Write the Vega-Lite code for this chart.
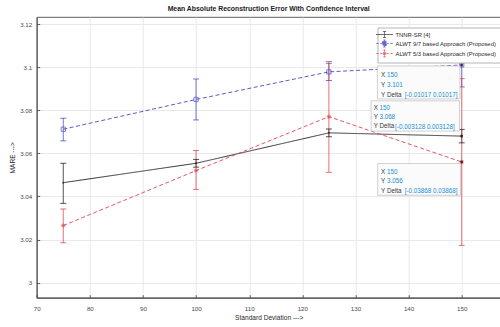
{
  "$schema": "https://vega.github.io/schema/vega-lite/v6.json",
  "autosize": {"type": "none"},
  "padding": {"left": 36.7, "top": 17, "right": 0, "bottom": 29.3},
  "width": 464,
  "height": 280.7,
  "background": "white",
  "config": {
    "font": "Liberation Sans, Arial",
    "view": {"stroke": "#3a3a3a", "strokeWidth": 0.8},
    "axis": {
      "labelFont": "Liberation Sans, Arial",
      "titleFont": "Liberation Sans, Arial",
      "labelFontSize": 6.2, "titleFontSize": 6.6, "titleFontWeight": "normal",
      "labelColor": "#4a4a4a", "titleColor": "#2a2a2a",
      "domainColor": "#3a3a3a", "domainWidth": 0.9,
      "tickColor": "#3a3a3a", "tickSize": -3, "tickWidth": 0.8,
      "gridColor": "#e3e3e3", "gridWidth": 0.8
    }
  },
  "title": {
    "text": "Mean Absolute Reconstruction Error With Confidence Interval",
    "font": "Liberation Sans, Arial",
    "fontSize": 6.9, "fontWeight": "bold", "color": "#1a1a1a",
    "anchor": "middle", "offset": 4
  },
  "datasets": {
    "main": [
      {"series": "TNNR-SR [4]", "sd": 75, "mare": 3.0464, "lo": 3.0368, "hi": 3.0554},
      {"series": "TNNR-SR [4]", "sd": 100, "mare": 3.0554, "lo": 3.0536, "hi": 3.0572},
      {"series": "TNNR-SR [4]", "sd": 125, "mare": 3.0695, "lo": 3.0677, "hi": 3.0713},
      {"series": "TNNR-SR [4]", "sd": 150, "mare": 3.068, "lo": 3.06487, "hi": 3.07113},
      {"series": "ALWT 9/7 based Approach (Proposed)", "sd": 75, "mare": 3.0712, "lo": 3.0658, "hi": 3.0763},
      {"series": "ALWT 9/7 based Approach (Proposed)", "sd": 100, "mare": 3.085, "lo": 3.0755, "hi": 3.0945},
      {"series": "ALWT 9/7 based Approach (Proposed)", "sd": 125, "mare": 3.0978, "lo": 3.0938, "hi": 3.1018},
      {"series": "ALWT 9/7 based Approach (Proposed)", "sd": 150, "mare": 3.101, "lo": 3.09083, "hi": 3.11117},
      {"series": "ALWT 5/3 based Approach (Proposed)", "sd": 75, "mare": 3.0265, "lo": 3.0185, "hi": 3.0342},
      {"series": "ALWT 5/3 based Approach (Proposed)", "sd": 100, "mare": 3.052, "lo": 3.0433, "hi": 3.0613},
      {"series": "ALWT 5/3 based Approach (Proposed)", "sd": 125, "mare": 3.077, "lo": 3.0512, "hi": 3.1026},
      {"series": "ALWT 5/3 based Approach (Proposed)", "sd": 150, "mare": 3.056, "lo": 3.01732, "hi": 3.09468}
    ],
    "tips": [
      {"series": "ALWT 9/7 based Approach (Proposed)", "sd": 150, "mare": 3.101, "vals": ["150", "3.101"], "delta": "[-0.01017 0.01017]"},
      {"series": "TNNR-SR [4]", "sd": 150, "mare": 3.068, "vals": ["150", "3.068"], "delta": "[-0.003128 0.003128]"},
      {"series": "ALWT 5/3 based Approach (Proposed)", "sd": 150, "mare": 3.056, "vals": ["150", "3.056"], "delta": "[-0.03868 0.03868]"}
    ]
  },
  "encoding": {
    "x": {"field": "sd", "type": "quantitative",
      "scale": {"domain": [70, 157.34], "nice": false, "zero": false},
      "axis": {"values": [70, 80, 90, 100, 110, 120, 130, 140, 150], "title": "Standard Deviation --->", "labelPadding": 11, "titlePadding": 3, "labelFlush": false}},
    "y": {"field": "mare", "type": "quantitative",
      "scale": {"domain": [2.99304, 3.12325], "nice": false, "zero": false},
      "axis": {"values": [3, 3.02, 3.04, 3.06, 3.08, 3.1, 3.12], "format": ".2~f", "title": "MARE --->", "labelPadding": 8, "titlePadding": 4}}
  },
  "layer": [
    {
      "data": {"name": "main"},
      "mark": {"type": "rule", "strokeWidth": 0.9},
      "encoding": {
        "y": {"field": "lo", "type": "quantitative"},
        "y2": {"field": "hi"},
        "color": {"field": "series", "type": "nominal",
          "scale": {"domain": ["TNNR-SR [4]", "ALWT 9/7 based Approach (Proposed)", "ALWT 5/3 based Approach (Proposed)"], "range": ["#1f1f1f", "#4a4ac4", "#e0474c"]},
          "legend": {"title": null, "orient": "none", "legendX": 340.8, "legendY": 10.5, "direction": "vertical",
            "fillColor": "white", "strokeColor": "#b5b5b5", "padding": 3,
            "labelFont": "Liberation Sans, Arial", "labelFontSize": 5.9, "labelColor": "#2a2a2a",
            "symbolSize": 49, "symbolOpacity": 1, "symbolStrokeWidth": 0.8, "labelOffset": 7, "rowPadding": -4, "symbolFillColor": "transparent", "symbolType": "stroke"}},
        "opacity": {"value": 0.85}
      }
    },
    {
      "data": {"name": "main"},
      "mark": {"type": "tick", "orient": "horizontal", "size": 6, "thickness": 0.9},
      "encoding": {
        "y": {"field": "lo", "type": "quantitative"},
        "color": {"field": "series", "type": "nominal"},
        "opacity": {"value": 0.85}
      }
    },
    {
      "data": {"name": "main"},
      "mark": {"type": "tick", "orient": "horizontal", "size": 6, "thickness": 0.9},
      "encoding": {
        "y": {"field": "hi", "type": "quantitative"},
        "color": {"field": "series", "type": "nominal"},
        "opacity": {"value": 0.85}
      }
    },
    {
      "data": {"name": "main"},
      "mark": {"type": "line", "strokeWidth": 0.9},
      "encoding": {
        "color": {"field": "series", "type": "nominal"},
        "strokeDash": {"field": "series", "type": "nominal", "legend": null,
          "scale": {"domain": ["TNNR-SR [4]", "ALWT 9/7 based Approach (Proposed)", "ALWT 5/3 based Approach (Proposed)"], "range": [[1, 0], [4, 2.5], [4, 2.5]]}}
      }
    },
    {
      "data": {"name": "main"},
      "transform": [{"filter": "datum.series == 'ALWT 9/7 based Approach (Proposed)'"}],
      "mark": {"type": "point", "shape": "square", "size": 18, "filled": false, "strokeWidth": 1},
      "encoding": {"color": {"field": "series", "type": "nominal"}}
    },
    {
      "data": {"name": "main"},
      "transform": [{"filter": "datum.series == 'ALWT 5/3 based Approach (Proposed)'"}],
      "mark": {"type": "point", "shape": "M-1,0H1M0,-1V1M-0.7,-0.7L0.7,0.7M-0.7,0.7L0.7,-0.7", "size": 20, "filled": false, "strokeWidth": 1},
      "encoding": {"color": {"field": "series", "type": "nominal"}}
    },
    {
      "data": {"name": "main"},
      "transform": [{"filter": "datum.series == 'TNNR-SR [4]'"}],
      "mark": {"type": "point", "shape": "circle", "size": 4, "filled": true},
      "encoding": {"color": {"field": "series", "type": "nominal"}}
    },
    {
      "data": {"name": "main"},
      "mark": {"type": "point", "filled": false, "opacity": 0, "strokeWidth": 0.8},
      "encoding": {
        "color": {"field": "series", "type": "nominal"},
        "shape": {"field": "series", "type": "nominal",
          "scale": {"domain": ["TNNR-SR [4]", "ALWT 9/7 based Approach (Proposed)", "ALWT 5/3 based Approach (Proposed)"],
            "range": [
              "M-2.4,0H2.4M0,-0.85V0.85M-0.45,-0.85H0.45M-0.45,0.85H0.45",
              "M-2.4,0H-1.7M-1.2,0H-0.65M0.65,0H1.2M1.7,0H2.4M-0.55,-0.55H0.55V0.55H-0.55ZM0,-1.0V-0.55M0,0.55V1.0M-0.35,-1.0H0.35M-0.35,1.0H0.35",
              "M-2.4,0H-1.7M-1.2,0H-0.65M0.65,0H1.2M1.7,0H2.4M-0.55,0H0.55M0,-0.55V0.55M-0.4,-0.4L0.4,0.4M-0.4,0.4L0.4,-0.4M0,-1.0V-0.55M0,0.55V1.0M-0.35,-1.0H0.35M-0.35,1.0H0.35"
            ]},
          "legend": {"title": null, "orient": "none", "legendX": 340.8, "legendY": 10.5, "symbolOpacity": 1}}
      }
    },
    {
      "data": {"name": "tips"},
      "transform": [{"filter": "datum.series == 'ALWT 9/7 based Approach (Proposed)'"}],
      "layer": [
        {"mark": {"type": "rect", "xOffset": -84.3, "x2Offset": -1.8, "yOffset": 1, "y2Offset": 34, "fill": "#fbfbfc", "stroke": "#c4c4c8", "strokeWidth": 0.8},
         "encoding": {"x2": {"field": "sd"}, "y2": {"field": "mare"}}},
        {"mark": {"type": "text", "align": "left", "baseline": "alphabetic", "dx": -80.6, "dy": 12.3, "lineHeight": 9.7, "fontSize": 6.3, "color": "#3a3a3a"},
         "encoding": {"text": {"value": ["X", "Y", "Y Delta"]}}},
        {"mark": {"type": "text", "align": "left", "baseline": "alphabetic", "dx": -74.6, "dy": 12.3, "lineHeight": 9.7, "fontSize": 6.3, "color": "#1a8fd0"},
         "encoding": {"text": {"field": "vals"}}},
        {"mark": {"type": "text", "align": "left", "baseline": "alphabetic", "dx": -57, "dy": 31.7, "fontSize": 6.3, "color": "#1a8fd0"},
         "encoding": {"text": {"field": "delta"}}}
      ]
    },
    {
      "data": {"name": "tips"},
      "transform": [{"filter": "datum.series == 'TNNR-SR [4]'"}],
      "layer": [
        {"mark": {"type": "rect", "xOffset": -90.6, "x2Offset": -2.3, "yOffset": -35.3, "y2Offset": -5, "fill": "#fbfbfc", "stroke": "#c4c4c8", "strokeWidth": 0.8},
         "encoding": {"x2": {"field": "sd"}, "y2": {"field": "mare"}}},
        {"mark": {"type": "text", "align": "left", "baseline": "alphabetic", "dx": -88, "dy": -26, "lineHeight": 9.2, "fontSize": 6.3, "color": "#3a3a3a"},
         "encoding": {"text": {"value": ["X", "Y", "Y Delta"]}}},
        {"mark": {"type": "text", "align": "left", "baseline": "alphabetic", "dx": -82.3, "dy": -26, "lineHeight": 9.2, "fontSize": 6.3, "color": "#1a8fd0"},
         "encoding": {"text": {"field": "vals"}}},
        {"mark": {"type": "text", "align": "left", "baseline": "alphabetic", "dx": -66.6, "dy": -7.6, "fontSize": 6.3, "color": "#1a8fd0"},
         "encoding": {"text": {"field": "delta"}}}
      ]
    },
    {
      "data": {"name": "tips"},
      "transform": [{"filter": "datum.series == 'ALWT 5/3 based Approach (Proposed)'"}],
      "layer": [
        {"mark": {"type": "rect", "xOffset": -84, "x2Offset": -1.3, "yOffset": 1.6, "y2Offset": 33.3, "fill": "#fbfbfc", "stroke": "#c4c4c8", "strokeWidth": 0.8},
         "encoding": {"x2": {"field": "sd"}, "y2": {"field": "mare"}}},
        {"mark": {"type": "text", "align": "left", "baseline": "alphabetic", "dx": -80.6, "dy": 11.6, "lineHeight": 9.8, "fontSize": 6.3, "color": "#3a3a3a"},
         "encoding": {"text": {"value": ["X", "Y", "Y Delta"]}}},
        {"mark": {"type": "text", "align": "left", "baseline": "alphabetic", "dx": -74.6, "dy": 11.6, "lineHeight": 9.8, "fontSize": 6.3, "color": "#1a8fd0"},
         "encoding": {"text": {"field": "vals"}}},
        {"mark": {"type": "text", "align": "left", "baseline": "alphabetic", "dx": -57, "dy": 31.2, "fontSize": 6.3, "color": "#1a8fd0"},
         "encoding": {"text": {"field": "delta"}}}
      ]
    },
    {
      "data": {"name": "tips"},
      "mark": {"type": "point", "shape": "square", "size": 7, "filled": true, "color": "#111111"},
      "encoding": {}
    }
  ]
}
